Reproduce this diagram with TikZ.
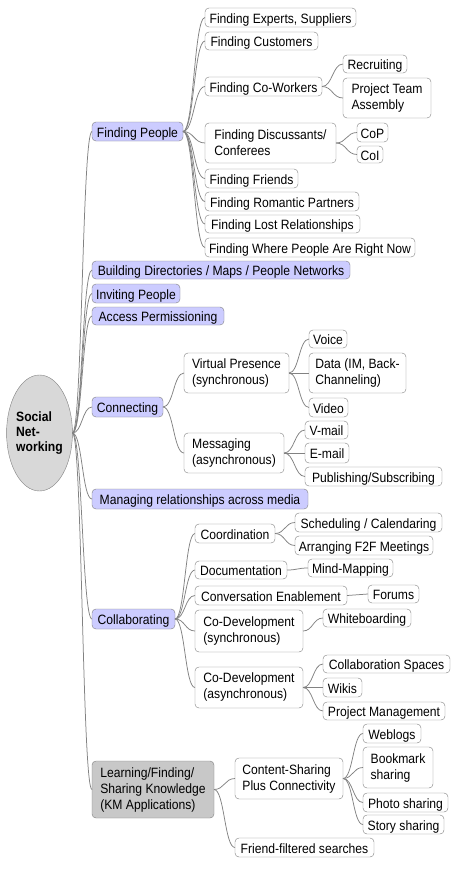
\documentclass[tikz,border=0pt]{standalone}
\usepackage{fontspec}
\setmainfont{Liberation Sans}[FakeStretch=0.9]
\usetikzlibrary{shapes.geometric,calc}
\definecolor{lav}{RGB}{204,204,255}
\definecolor{kmgray}{RGB}{200,200,200}
\definecolor{egray}{RGB}{216,216,216}
\definecolor{bord}{RGB}{128,128,128}
\definecolor{lnk}{RGB}{130,130,130}
\tikzset{
  mbox/.style={draw=bord, fill=white, rounded corners=4pt, inner sep=0pt, outer sep=0pt,
    align=left, font=\fontsize{13.5}{16}\selectfont},
  box/.style={mbox, text height=11.7pt, text depth=0pt},
  lone/.style={box, fill=lav},
  km/.style={mbox, fill=kmgray},
  link/.style={draw=lnk, line width=0.75pt},
}
\newcommand\mmconn[2]{\draw[link] let \p1=(#1.east), \p2=(#2.west) in
  (\p1) .. controls ({(\x1+\x2)/2},\y1) and ({(\x1+\x2)/2},\y2) .. (\p2);}
\newcommand\bx[7][box]{%
  \pgfmathsetmacro\bxcx{(#3+#5)/2}%
  \pgfmathsetmacro\bxcy{(#4+#6)/2}%
  \pgfmathsetmacro\bxw{#5-#3}%
  \pgfmathsetmacro\bxh{#6-#4}%
  \node[#1, minimum width=\bxw pt, minimum height=\bxh pt, anchor=center] (#2) at (\bxcx,\bxcy) {#7};}
\begin{document}
\begin{tikzpicture}[x=1pt,y=-1pt]
\useasboundingbox[fill=white] (0,0) rectangle (460,870);
% root
\node[ellipse, draw=bord, fill=egray, minimum width=65pt, minimum height=116pt, inner sep=0pt, outer sep=0pt,
  align=left, font=\fontsize{13.5}{15}\selectfont\bfseries] (root) at (39.5,433) {Social\\Net-\\working};
% level 1
\bx[lone]{fp}{92}{122}{183}{141}{Finding People}
\bx[lone]{bdir}{92}{261}{350}{279}{Building Directories / Maps / People Networks}
\bx[lone]{invite}{92}{284}{180}{303}{Inviting People}
\bx[lone]{access}{92}{307}{224}{325}{Access Permissioning}
\bx[lone]{connecting}{92}{397}{163}{417}{Connecting}
\bx[lone]{manage}{92}{489}{308}{509}{Managing relationships across media}
\bx[lone]{collab}{92}{609}{175}{629}{Collaborating}
\bx[km]{learn}{92}{761}{214}{818}{Learning/Finding/\\Sharing Knowledge\\(KM Applications)}
% finding people
\bx{fexp}{205}{8}{356}{27}{Finding Experts, Suppliers}
\bx{fcust}{205}{32}{318}{50}{Finding Customers}
\bx{fcow}{205}{77}{322}{96}{Finding Co-Workers}
\bx{recr}{343}{55}{407}{73}{Recruiting}
\bx[mbox]{pta}{343}{78}{431}{118}{Project Team\\Assembly}
\bx[mbox]{fdisc}{205}{123}{336}{163}{Finding Discussants/\\Conferees}
\bx{cop}{357}{123}{388}{142}{CoP}
\bx{coi}{357}{146}{383}{163}{CoI}
\bx{ffr}{205}{169}{298}{188}{Finding Friends}
\bx{from}{205}{192}{359}{211}{Finding Romantic Partners}
\bx{flost}{205}{215}{360}{233}{Finding Lost Relationships}
\bx{fwhere}{205}{238}{415}{257}{Finding Where People Are Right Now}
% connecting
\bx[mbox]{vp}{184}{353}{289}{393}{Virtual Presence\\(synchronous)}
\bx[mbox]{msg}{184}{433}{284}{473}{Messaging\\(asynchronous)}
\bx{voice}{309}{330}{347}{348}{Voice}
\bx[mbox]{data}{309}{353}{406}{393}{Data (IM, Back-\\Channeling)}
\bx{video}{309}{398}{348}{417}{Video}
\bx{vmail}{305}{421}{348}{439}{V-mail}
\bx{email}{305}{443}{349}{463}{E-mail}
\bx{pub}{305}{467}{442}{486}{Publishing/Subscribing}
% collaborating
\bx{coord}{195}{524}{275}{543}{Coordination}
\bx{sched}{295}{513}{442}{532}{Scheduling / Calendaring}
\bx{arr}{295}{536}{433}{555}{Arranging F2F Meetings}
\bx{doc}{195}{561}{287}{579}{Documentation}
\bx{mind}{308}{559}{393}{577}{Mind-Mapping}
\bx{conv}{195}{586}{347}{605}{Conversation Enablement}
\bx{forums}{368}{585}{419}{603}{Forums}
\bx[mbox]{cods}{195}{610}{303}{652}{Co-Development\\(synchronous)}
\bx{white}{323}{609}{411}{627}{Whiteboarding}
\bx[mbox]{coda}{195}{667}{303}{708}{Co-Development\\(asynchronous)}
\bx{cspaces}{323}{655}{450}{673}{Collaboration Spaces}
\bx{wikis}{323}{678}{362}{697}{Wikis}
\bx{pm}{323}{702}{445}{720}{Project Management}
% learning
\bx[mbox]{csp}{235}{758}{343}{799}{Content-Sharing\\Plus Connectivity}
\bx{weblogs}{363}{724}{421}{743}{Weblogs}
\bx[mbox]{bookm}{363}{747}{433}{788}{Bookmark\\sharing}
\bx{photo}{363}{793}{448}{812}{Photo sharing}
\bx{story}{363}{815}{444}{834}{Story sharing}
\bx{friendf}{235}{838}{374}{857}{Friend-filtered searches}
% connectors
\foreach \c in {fp,bdir,invite,access,connecting,manage,collab,learn} {\mmconn{root}{\c}}
\foreach \c in {fexp,fcust,fcow,fdisc,ffr,from,flost,fwhere} {\mmconn{fp}{\c}}
\mmconn{fcow}{recr}\mmconn{fcow}{pta}
\mmconn{fdisc}{cop}\mmconn{fdisc}{coi}
\mmconn{connecting}{vp}\mmconn{connecting}{msg}
\foreach \c in {voice,data,video} {\mmconn{vp}{\c}}
\foreach \c in {vmail,email,pub} {\mmconn{msg}{\c}}
\foreach \c in {coord,doc,conv,cods,coda} {\mmconn{collab}{\c}}
\mmconn{coord}{sched}\mmconn{coord}{arr}
\mmconn{doc}{mind}\mmconn{conv}{forums}\mmconn{cods}{white}
\foreach \c in {cspaces,wikis,pm} {\mmconn{coda}{\c}}
\mmconn{learn}{csp}\mmconn{learn}{friendf}
\foreach \c in {weblogs,bookm,photo,story} {\mmconn{csp}{\c}}
\end{tikzpicture}
\end{document}
